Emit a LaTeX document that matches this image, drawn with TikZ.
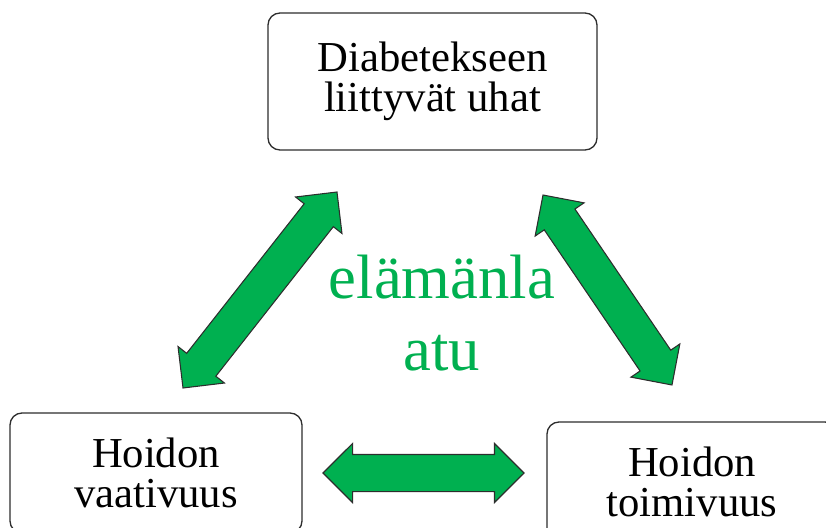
\documentclass[tikz,border=0pt]{standalone}
\usepackage{fontspec}
\setmainfont{Liberation Serif}
\usetikzlibrary{shapes.arrows,calc}
\definecolor{cGreen}{RGB}{0,176,80}
\definecolor{cEdge}{RGB}{45,45,45}

\tikzset{
  box/.style={draw=cEdge, line width=1pt, rounded corners=9pt, fill=white,
    align=center, inner sep=0pt, font=\fontsize{32}{30}\selectfont},
  dblarr/.style={double arrow, fill=cGreen, draw=cEdge, line width=0.8pt,
    inner xsep=0pt, inner ysep=13.5pt, double arrow head extend=8.25pt,
    double arrow tip angle=90}
}

\begin{document}
\begin{tikzpicture}[x=0.75pt,y=-0.75pt]
\useasboundingbox (0,0) rectangle (826,528);
\clip (0,0) rectangle (826,528);
% boxes
\node[box, minimum width=246.75pt, minimum height=102.75pt] (threat) at (432.5,81.5) {Diabetekseen\\liittyvät uhat};
\node[box, minimum width=219pt, minimum height=90pt] (demand) at (156,473) {Hoidon\\vaativuus};
\node[box, minimum width=217.5pt, minimum height=90pt] (work) at (692,482) {Hoidon\\toimivuus};
% centre text
\node[text=cGreen, align=center, font=\fontsize{47}{54}\selectfont] (life) at (442,313) {elämänla\\atu};
% arrow ends
\coordinate (lA) at (183,388);
\coordinate (lB) at (337,192);
\coordinate (rA) at (543,195);
\coordinate (rB) at (672,385);
\coordinate (bA) at (323,473);
\coordinate (bB) at (524,473);
% block arrows
\path let \p1=($(lB)-(lA)$) in node[dblarr, minimum height={veclen(\x1,\y1)}, rotate={atan2(\y1,\x1)}] (left) at ($(lA)!0.5!(lB)$) {};
\path let \p1=($(rB)-(rA)$) in node[dblarr, minimum height={veclen(\x1,\y1)}, rotate={atan2(\y1,\x1)}] (right) at ($(rA)!0.5!(rB)$) {};
\path let \p1=($(bB)-(bA)$) in node[dblarr, minimum height={veclen(\x1,\y1)}, rotate={atan2(\y1,\x1)}] (bottom) at ($(bA)!0.5!(bB)$) {};
\end{tikzpicture}
\end{document}
